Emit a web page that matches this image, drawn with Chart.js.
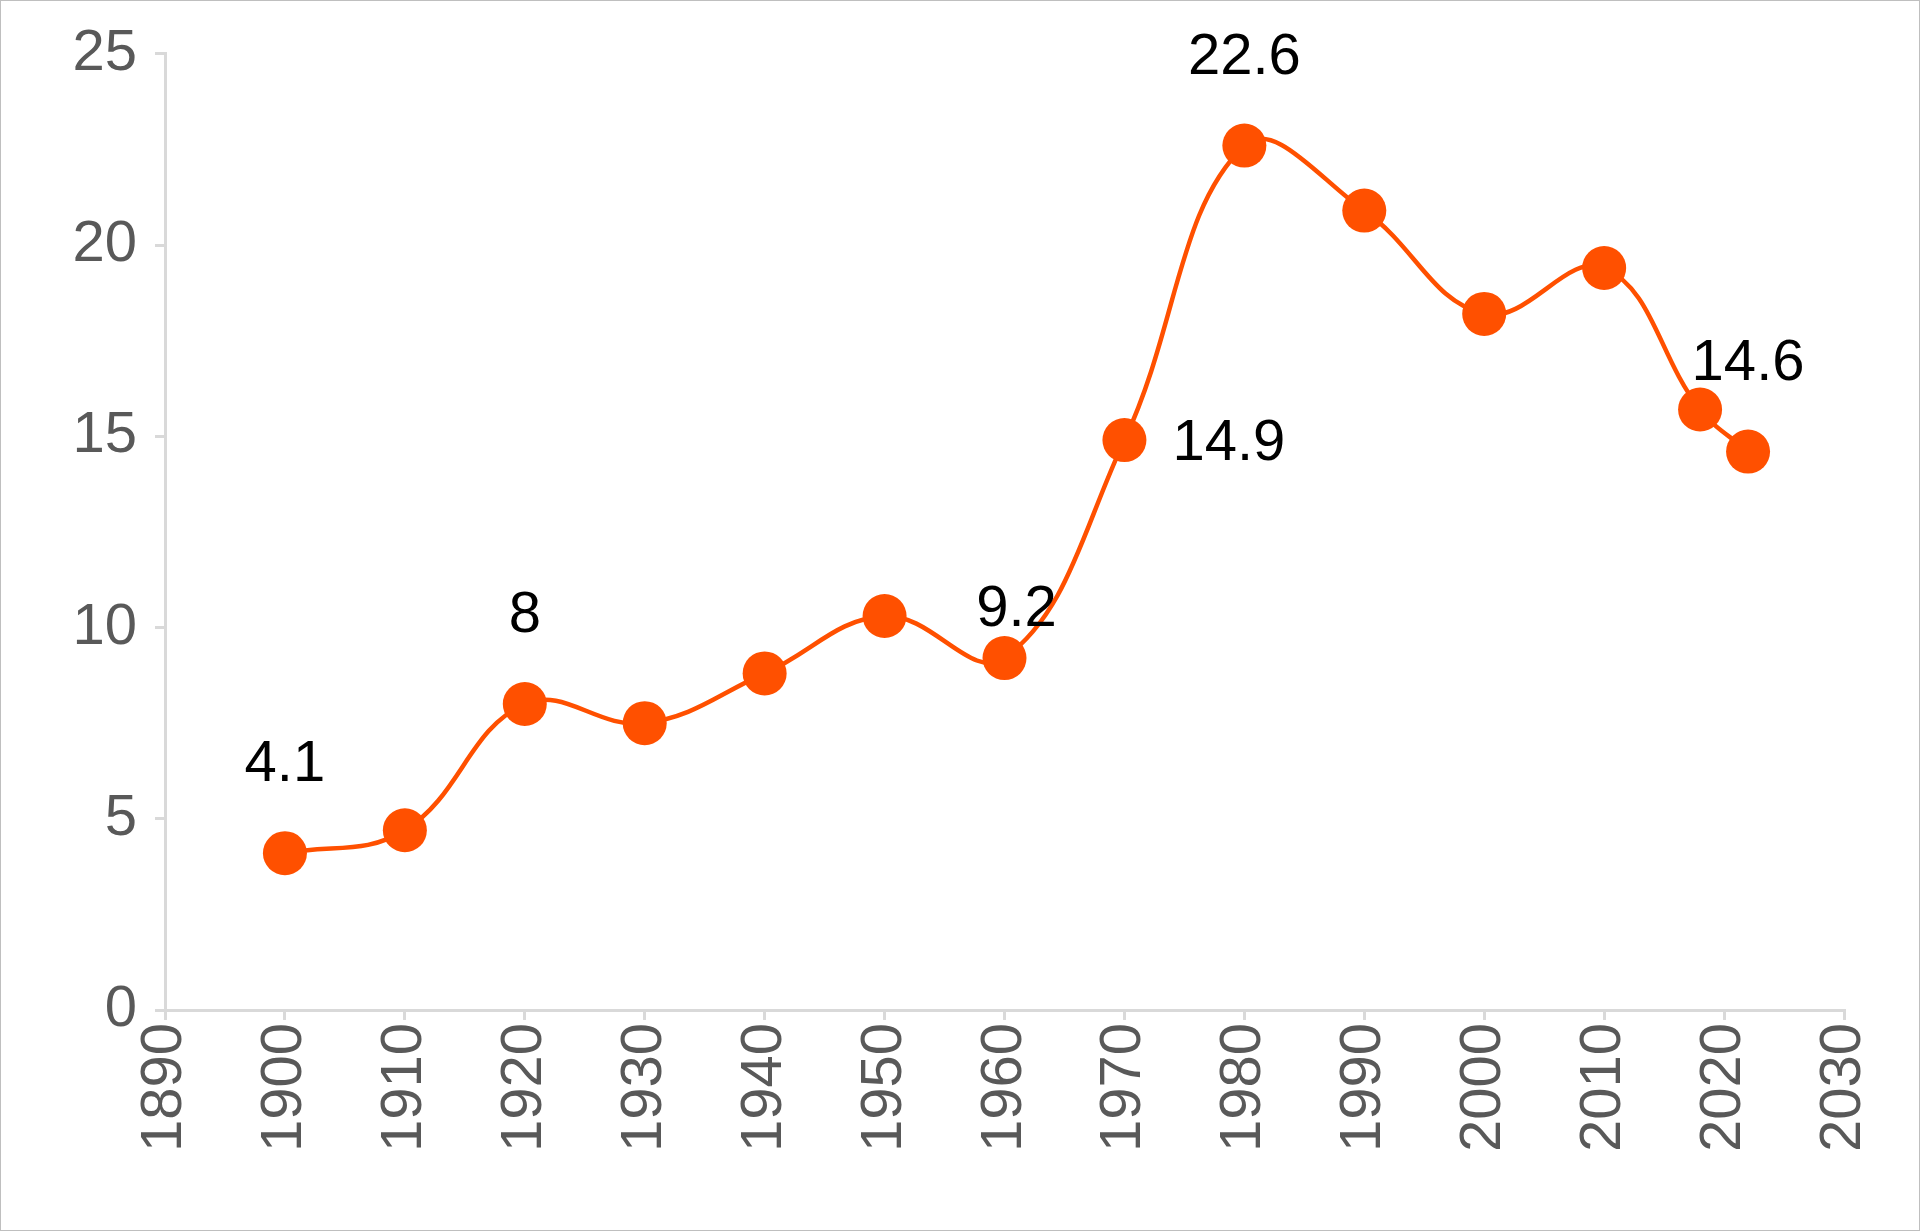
<!DOCTYPE html>
<html>
<head>
<meta charset="utf-8">
<script src="https://cdn.jsdelivr.net/npm/chart.js@4"></script>
<style>
html,body{margin:0;padding:0;background:#fff;}
#wrap{width:1918px;height:1229px;border:1px solid #bfbfbf;}
</style>
</head>
<body>
<div id="wrap"><canvas id="mycanvas" width="1918" height="1229"></canvas></div>
<script>
var years = [1900, 1910, 1920, 1930, 1940, 1950, 1960, 1970, 1980, 1990, 2000, 2010, 2018, 2022];
var values = [4.1, 4.7, 8, 7.5, 8.8, 10.3, 9.2, 14.9, 22.6, 20.9, 18.2, 19.4, 15.7, 14.6];
// which points get a label, and where it sits
var labelIdx = [0, 2, 6, 7, 8, 13];
var labelPos = ['above', 'above', 'aboveRight', 'right', 'above', 'above'];

var pointLabels = {
  id: 'pointLabels',
  afterDatasetsDraw: function(chart) {
    var ctx = chart.ctx;
    var meta = chart.getDatasetMeta(0);
    ctx.save();
    ctx.font = '58px "Liberation Sans", Arial, sans-serif';
    ctx.fillStyle = '#000';
    ctx.textBaseline = 'middle';
    for (var i = 0; i < labelIdx.length; i++) {
      var p = meta.data[labelIdx[i]];
      var txt = String(values[labelIdx[i]]);
      var pos = labelPos[i];
      if (pos == 'above') { ctx.textAlign = 'center'; ctx.fillText(txt, p.x, p.y - 88); }
      else if (pos == 'aboveRight') { ctx.textAlign = 'center'; ctx.fillText(txt, p.x + 12, p.y - 48); }
      else { ctx.textAlign = 'left'; ctx.fillText(txt, p.x + 48, p.y + 4); }
    }
    ctx.restore();
  }
};

var pts = [];
for (var i in years) pts.push({x: years[i], y: values[i]});

new Chart(document.getElementById('mycanvas'), {
  type: 'line',
  data: {
    datasets: [{
      data: pts,
      borderColor: '#FF5000',
      backgroundColor: '#FF5000',
      borderWidth: 4.5,
      pointRadius: 22,
      pointBorderWidth: 0,
      tension: 0.4
    }]
  },
  options: {
    responsive: false,
    animation: false,
    layout: {padding: {top: 48, right: 75, left: 0, bottom: 0}},
    plugins: {legend: {display: false}, tooltip: {enabled: false}},
    scales: {
      x: {
        type: 'linear', min: 1890, max: 2030,
        afterFit: function(s) { s.height = 220; },
        ticks: {stepSize: 10, maxRotation: 90, minRotation: 90, color: '#595959',
          font: {size: 58, family: '"Liberation Sans", Arial'}, callback: function(v) { return String(v); }},
        grid: {drawOnChartArea: false, color: '#d9d9d9', lineWidth: 3, tickLength: 10},
        border: {color: '#d9d9d9', width: 3}
      },
      y: {
        min: 0, max: 25,
        afterFit: function(s) { s.width = 164; },
        ticks: {stepSize: 5, color: '#595959', padding: 18,
          font: {size: 58, family: '"Liberation Sans", Arial'}},
        grid: {drawOnChartArea: false, color: '#d9d9d9', lineWidth: 3, tickLength: 10},
        border: {color: '#d9d9d9', width: 3}
      }
    }
  },
  plugins: [pointLabels]
});
</script>
</body>
</html>
